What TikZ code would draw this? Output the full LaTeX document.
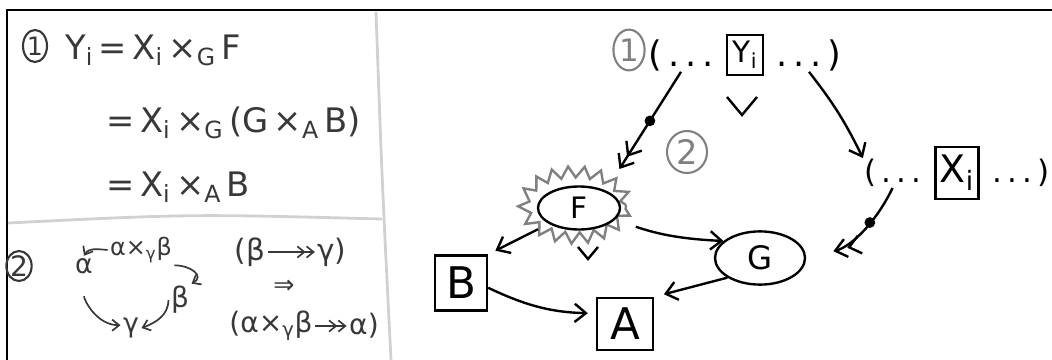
\documentclass[tikz,border=0pt]{standalone}
\usepackage{fontspec}
\setmainfont{DejaVu Sans}
\usetikzlibrary{positioning,arrows.meta,shapes.geometric,decorations.pathmorphing}

\definecolor{pencil}{gray}{0.22}
\definecolor{faint}{gray}{0.5}
\definecolor{rulegrey}{gray}{0.82}

\newcommand{\pensize}[1]{\fontsize{#1}{#1}\selectfont}

\begin{document}
\begin{tikzpicture}[x=0.025cm,y=-0.025cm,line width=1.7pt,
    >={Straight Barb[length=8pt,width=13pt]},
    num/.style={draw,ellipse,inner sep=0pt,line width=1.5pt,font=\pensize{18}},
    eqn/.style={anchor=base west,inner sep=0pt,text=pencil,font=\pensize{24}},
    sym/.style={inner sep=1pt,text=pencil,font=\pensize{18}},
    box/.style={draw,rectangle,inner sep=0pt},
    oval/.style={draw,ellipse,inner sep=0pt},
    dots/.style={inner sep=0pt,font=\pensize{25}},
    dot/.style={circle,fill,inner sep=0pt,minimum size=0.27cm},
    epi/.style={->>},
    burst/.style={draw=faint,ellipse,minimum width=2.55cm,minimum height=1.65cm,
      decorate,decoration={zigzag,segment length=11pt,amplitude=4pt}},
    divider/.style={draw=rulegrey,line width=2pt}
  ]
  \useasboundingbox (0,0) rectangle (1052,360);

  % frame and panel rules
  \draw[line width=1.3pt] (7,360) -- (7,10) -- (1052,10);
  \draw[divider] (376,12) .. controls (382,180) .. (391,360);
  \draw[divider] (8,223) .. controls (190,214) .. (382,219);

  % (1) the derivation
  \node[num,draw=pencil,text=pencil,minimum width=0.6cm,minimum height=0.8cm] (n1) at (35,46) {1};
  \node[eqn] (eq1) at (64,60) {Y\textsubscript{i}\,=\,X\textsubscript{i}\,×\textsubscript{G}\,F};
  \node[eqn] (eq2) at (105,133) {=\,X\textsubscript{i}\,×\textsubscript{G}\,(G\,×\textsubscript{A}\,B)};
  \node[eqn] (eq3) at (105,197) {=\,X\textsubscript{i}\,×\textsubscript{A}\,B};

  % (2) pullback square
  \node[num,draw=pencil,text=pencil,minimum width=0.55cm,minimum height=0.75cm,font=\pensize{20}] (n2) at (19,266) {2};
  \node[sym,font=\pensize{19}] (al) at (84,266) {α};
  \node[sym,font=\pensize{17}] (pb) at (141,250) {α×\textsubscript{γ}β};
  \node[sym,font=\pensize{20}] (be) at (180,300) {β};
  \node[sym,font=\pensize{19}] (ga) at (131,328) {γ};

  \node[sym,font=\pensize{21}] (eb) at (250,252) {(β};
  \node[sym,font=\pensize{21}] (eg) at (332,252) {γ)};
  \node[sym] (imp) at (284,287) {⇒};
  \node[sym,font=\pensize{20}] (ep) at (271,326) {(α×\textsubscript{γ}β};
  \node[sym,font=\pensize{20}] (ea) at (364,326) {α)};

  \begin{scope}[draw=pencil,line width=1.2pt,>={Straight Barb[length=5pt,width=8pt]}]
    \draw[->] (pb.west) to[out=175,in=60] (al.north);
    \draw[->] (pb.south east) to[out=0,in=30,looseness=1.6] (be.north east);
    \draw[->,shorten <=0.5cm] (al.south) to[out=-90,in=180] (ga.165);
    \draw[->] (be.west) to[out=-90,in=20] (ga.east);
    \draw[epi] (eb) -- (eg);
    \draw[epi] (ep) -- (ea);
  \end{scope}

  % tuples
  \node[num,draw=faint,text=faint,minimum width=0.78cm,minimum height=1.02cm,font=\pensize{22}] (c1) at (629,50) {1};
  \node[box,minimum width=0.9cm,minimum height=1cm,font=\pensize{21}] (tY) at (745,55) {Y\textsubscript{i}};
  \node[dots,left=0.28cm of tY] (lY) {(\,.\,.\,.};
  \node[dots,right=0.28cm of tY] (rY) {.\,.\,.\,)};

  \node[num,draw=faint,text=faint,minimum width=1cm,minimum height=1.05cm,font=\pensize{24}] (c2) at (687,152) {2};

  \node[box,minimum width=1.075cm,minimum height=1.3cm,font=\pensize{27}] (tX) at (957,173) {X\textsubscript{i}};
  \node[dots,font=\pensize{22},left=0.3cm of tX] (lX) {(\,.\,.\,.};
  \node[dots,font=\pensize{22},right=0.3cm of tX] (rX) {.\,.\,.\,)};

  % the square
  \node[burst] (burst) at (575,205) {};
  \node[oval,minimum width=2.05cm,minimum height=1.075cm,font=\pensize{21}] (F) at (579,208) {F};
  \node[oval,minimum width=2.25cm,minimum height=1.33cm,font=\pensize{23}] (G) at (760,258) {G};
  \node[box,minimum width=1.3cm,minimum height=1.375cm,font=\pensize{31}] (B) at (461,283) {B};
  \node[box,minimum width=1.4cm,minimum height=1.3cm,font=\pensize{31}] (A) at (625,324) {A};

  % connect the nodes
  \draw[epi,shorten >=0.35cm] (lY.south) -- node[dot,pos=0.45] (d1) {} (burst.north east);
  \draw[->] (rY.south) to[bend left=6] (lX.north west);
  \draw[epi,shorten >=0.7cm] (lX.south) to[bend left=25] node[dot,pos=0.35] (d2) {} (G.east);
  \draw[->,shorten >=0.2cm] (burst.south west) -- (B.north east);
  \draw[->,shorten <=0.4cm] (burst.-20) to[bend right=8] (G.155);
  \draw[->,shorten >=0.2cm] (B.-10) to[bend right=12] (A.160);
  \draw[->,shorten >=0.25cm] (G.south west) -- (A.north east);

  % pullback corners
  \draw (727,97) -- (742,115) -- (757,97);
  \draw (578,247) -- (588,259) -- (598,247);
\end{tikzpicture}
\end{document}
